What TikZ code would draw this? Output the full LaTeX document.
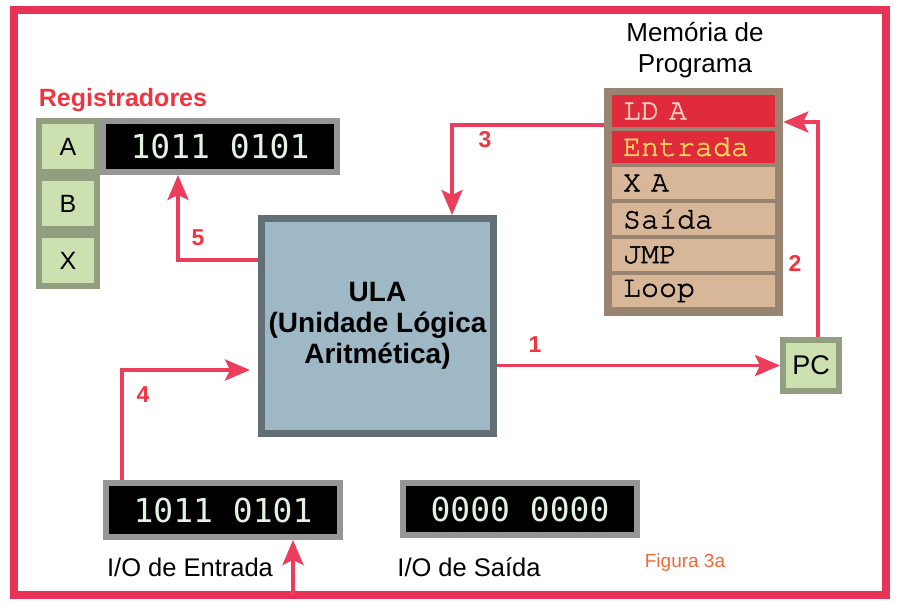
\documentclass[tikz,border=0pt]{standalone}
\usepackage{fontspec}
\setmainfont{Liberation Sans}
\newfontfamily\memfont{TeX Gyre Cursor}[FakeBold=1.6]
\newfontfamily\lcdfont{DejaVu Sans Mono}
\usetikzlibrary{positioning,arrows.meta}
\definecolor{framered}{RGB}{232,50,86}
\definecolor{arrowred}{RGB}{236,62,92}
\definecolor{regred}{RGB}{240,52,64}
\definecolor{keygreen}{RGB}{204,224,176}
\definecolor{keyedge}{RGB}{146,158,128}
\definecolor{lcdedge}{RGB}{150,150,150}
\definecolor{lcdtext}{RGB}{228,242,228}
\definecolor{ulablue}{RGB}{158,184,198}
\definecolor{ulaedge}{RGB}{98,112,118}
\definecolor{memedge}{RGB}{152,132,112}
\definecolor{memtan}{RGB}{216,182,152}
\definecolor{memhot}{RGB}{224,44,58}
\definecolor{ldtext}{RGB}{255,206,196}
\definecolor{entext}{RGB}{255,214,96}
\definecolor{figorange}{RGB}{242,104,56}
\begin{document}
\begin{tikzpicture}[x=1pt,y=1pt,yscale=-1,
  regkey/.style={draw=keyedge,fill=keygreen,line width=6pt,outer sep=3pt,minimum width=58pt,minimum height=51pt,font=\fontsize{25}{28}\selectfont},
  lcdbox/.style={draw=lcdedge,fill=black,line width=6pt,outer sep=3pt,minimum width=234pt,minimum height=51pt,text=lcdtext,font=\lcdfont\fontsize{33}{36}\selectfont},
  memrow/.style={minimum height=32pt,text width=141pt,inner xsep=11pt,inner ysep=0pt,align=left,font=\memfont\fontsize{30}{32}\selectfont},
  flowarrow/.style={arrowred,line width=3.5pt,-{Stealth[length=25pt,width=21pt,inset=5pt]}},
  steplabel/.style={text=regred,font=\bfseries\fontsize{23}{26}\selectfont}]
\fill[white] (0,0) rectangle (898,607);
\useasboundingbox (0,0) rectangle (898,607);
\draw[framered,line width=8pt] (14,10) rectangle (886,595);
\node[text=regred,font=\bfseries\fontsize{25}{28}\selectfont] (regtitle) at (123,100) {Registradores};
\node[regkey] (rA) at (68,146.5) {A};
\node[regkey] (rB) at (68,203.5) {B};
\node[regkey] (rX) at (68,260.5) {X};
\node[lcdbox] (dispA) at (220,146.5) {1011 0101};
\node[draw=ulaedge,fill=ulablue,line width=7pt,outer sep=3.5pt,minimum width=232pt,minimum height=215pt,align=center,font=\bfseries\fontsize{28}{31}\selectfont] (ula) at (377.5,326) {ULA\\(Unidade Lógica\\Aritmética)};
\node[align=center,font=\fontsize{26}{31}\selectfont] (memtitle) at (695,50) {Memória de\\Programa};
\node[fill=memedge,minimum width=179pt,minimum height=228pt] (mem) at (693.5,202) {};
\foreach \txt/\i/\bg/\fg in {LD A/0/memhot/ldtext,Entrada/1/memhot/entext,X A/2/memtan/black,Saída/3/memtan/black,JMP/4/memtan/black,Loop/5/memtan/black}
  \node[memrow,fill=\bg,text=\fg] (row\i) at (693.5,111+36*\i) {\txt};
\node[regkey,minimum width=56pt,font=\fontsize{27}{30}\selectfont] (pc) at (811,365.5) {PC};
\node[lcdbox,minimum height=54pt] (inA) at (223,510) {1011 0101};
\node[lcdbox,minimum height=52pt] (outA) at (520,509) {0000 0000};
\node[font=\fontsize{25.5}{28}\selectfont] (inlabel) at (190,567) {I/O de Entrada};
\node[font=\fontsize{25.5}{28}\selectfont] (outlabel) at (469,567) {I/O de Saída};
\node[text=figorange,font=\fontsize{19}{21}\selectfont] (fig) at (685,563) {Figura 3a};
\coordinate (c2) at (818,122);
\coordinate (c3) at (452,125);
\coordinate (c4) at (122,370);
\coordinate (c5) at (178,260);
\coordinate (c6) at (293,595);
\draw[flowarrow] (ula.east |- pc.west) -- (pc.west);
\draw[flowarrow] (pc.north -| c2) |- (mem.east |- c2);
\draw[flowarrow] (mem.west |- c3) -| (c3 |- ula.north);
\draw[flowarrow,shorten >=8pt] (c4 |- inA.north) |- (ula.west |- c4);
\draw[flowarrow] (ula.west |- c5) -| (c5 |- dispA.south);
\draw[flowarrow] (c6) -- (c6 |- inA.south);
\node[steplabel] (n1) at (535,345) {1};
\node[steplabel] (n2) at (795,263) {2};
\node[steplabel] (n3) at (485,140) {3};
\node[steplabel] (n4) at (143,395) {4};
\node[steplabel] (n5) at (198,238) {5};
\end{tikzpicture}
\end{document}
